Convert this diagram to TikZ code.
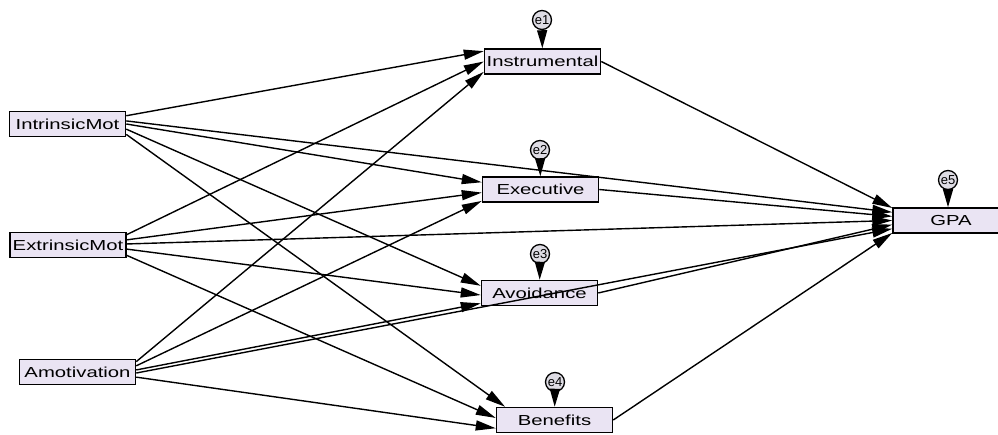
\documentclass[tikz,border=0pt]{standalone}
\usepackage{fontspec}
\setmainfont{Liberation Sans}
\usepackage{tikz}
\usetikzlibrary{arrows.meta}
\definecolor{boxfill}{RGB}{234,228,243}
\definecolor{errfill}{RGB}{222,220,228}
\newcommand{\wide}[1]{\scalebox{1.4}[1]{#1}}
\begin{document}
\begin{tikzpicture}[x=1pt,y=-1pt]
      \tikzstyle{var} = [rectangle, draw, line width=1.5pt, fill=boxfill,
      minimum width=116pt, minimum height=25pt, inner sep=0pt,
      font=\fontsize{14.5}{14.5}\selectfont] \tikzstyle{err} = [circle,
      draw, line width=1.3pt, fill=errfill, minimum size=19pt, inner
      sep=0pt, font=\fontsize{13}{13}\selectfont] \tikzstyle{path} =
      [line width=1.4pt, -{Triangle[length=20pt,width=10pt]}]
      \tikzstyle{epath} = [line width=1.3pt,
      -{Triangle[length=18pt,width=10pt]}]
      \useasboundingbox (0,0) rectangle (998,435);
      \node[var] (intr) at (67.5,124) {\wide{IntrinsicMot}}; \node[var]
      (extr) at (68,245) {\wide{ExtrinsicMot}}; \node[var] (amot) at
      (77.5,372) {\wide{Amotivation}};
      \node[var] (instr) at (542.5,61.5) {\wide{Instrumental}}; \node[var]
      (exec) at (540.5,189.5) {\wide{Executive}}; \node[var] (avoid) at
      (539.5,293) {\wide{Avoidance}}; \node[var] (benef) at (554.5,420)
      {\wide{Benefits}}; \node[var] (gpa) at (951,220.5) {\wide{GPA}};
      \node[err] (e1) at (542,20) {e1}; \node[err] (e2) at (540,150)
      {e2}; \node[err] (e3) at (540,254) {e3}; \node[err] (e4) at
      (555,382) {e4}; \node[err] (e5) at (948,180) {e5};
      \draw[epath] (e1) -- (instr); \draw[epath] (e2) -- (exec);
      \draw[epath] (e3) -- (avoid); \draw[epath] (e4) -- (benef);
      \draw[epath] (e5) -- (gpa.north -| e5);
      \draw[path] (intr.8) -- (instr.170); \draw[path] (intr.0) --
      (exec.173); \draw[path] (intr.-5) -- (avoid.173); \draw[path]
      (intr.-10) -- (benef.165); \draw[path] (intr.3) -- (gpa.172);
      \draw[path] (extr.10) -- (instr.180); \draw[path] (extr.5) --
      (exec.183); \draw[path] (extr.1) -- (gpa.180); \draw[path]
      (extr.-4) -- (avoid.182); \draw[path] (extr.-10) -- (benef.178);
      \draw[path] (amot.10) -- (instr.190); \draw[path] (amot.6) --
      (exec.191); \draw[path] (amot.2) -- (avoid.190); \draw[path]
      (amot.-1) -- (gpa.188); \draw[path] (amot.-5) -- (benef.188);
      \draw[path] (instr.east) -- (gpa.168); \draw[path] (exec.east) --
      (gpa.176); \draw[path] (avoid.east) -- (gpa.184); \draw[path]
      (benef.east) -- (gpa.192);
    \end{tikzpicture}
\end{document}
